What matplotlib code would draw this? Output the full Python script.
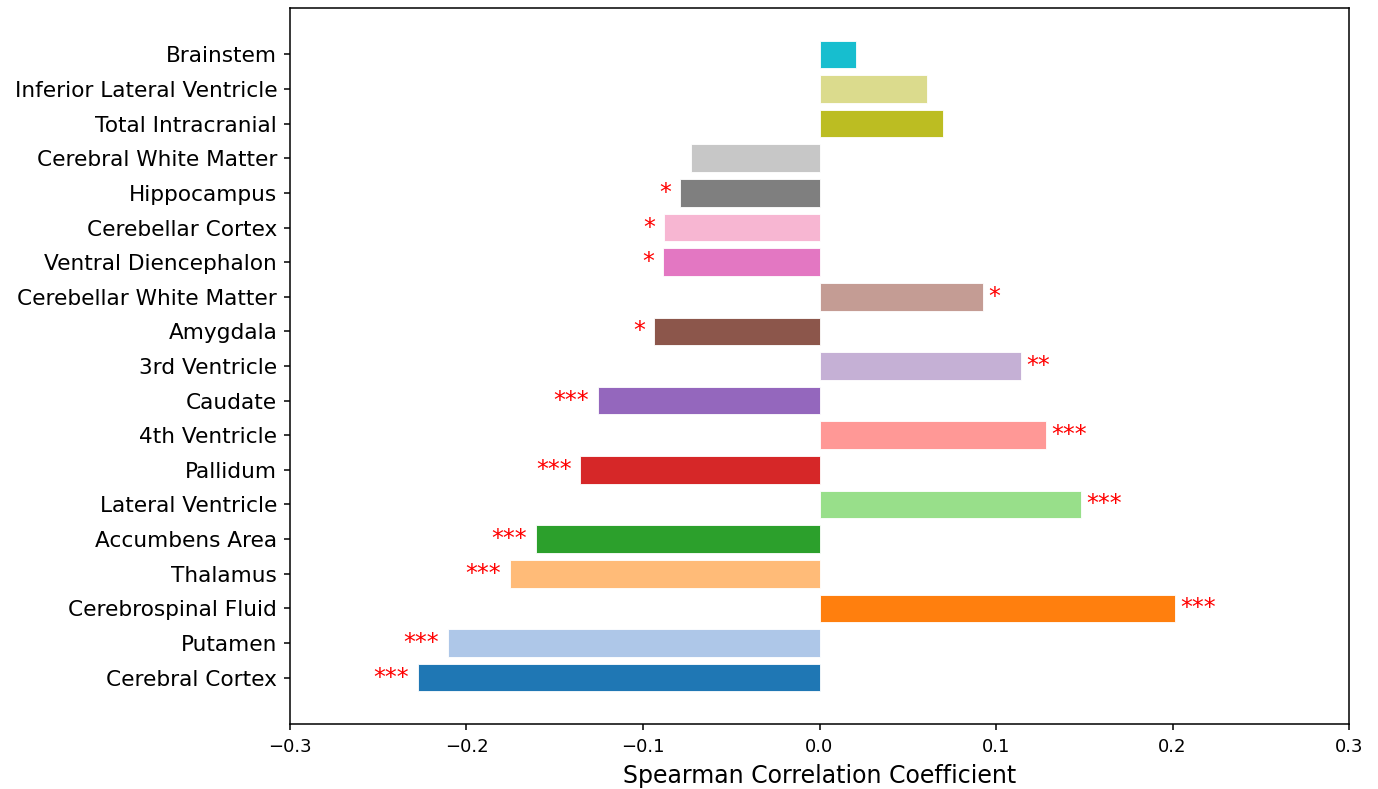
import matplotlib
matplotlib.use('Agg')
import matplotlib.pyplot as plt

regions = ['Cerebral Cortex', 'Putamen', 'Cerebrospinal Fluid', 'Thalamus',
           'Accumbens Area', 'Lateral Ventricle', 'Pallidum', '4th Ventricle',
           'Caudate', '3rd Ventricle', 'Amygdala', 'Cerebellar White Matter',
           'Ventral Diencephalon', 'Cerebellar Cortex', 'Hippocampus',
           'Cerebral White Matter', 'Total Intracranial',
           'Inferior Lateral Ventricle', 'Brainstem']
rho = [-0.2275, -0.2105, 0.2015, -0.1755, -0.1605, 0.1480, -0.1355, 0.1285,
       -0.1255, 0.1140, -0.0940, 0.0925, -0.0885, -0.0880, -0.0790,
       -0.0730, 0.0700, 0.0610, 0.0205]
stars = ['***', '***', '***', '***', '***', '***', '***', '***',
         '***', '**', '*', '*', '*', '*', '*', '', '', '', '']

colors = plt.cm.tab20.colors[:len(regions)]

fig = plt.figure(figsize=(13.78, 7.89), dpi=100)
ax = fig.add_axes([290 / 1378, 1 - 724 / 789, 1059 / 1378, 716 / 789])
bars = ax.barh(regions, rho, color=colors, edgecolor='white', linewidth=0.6)

for i, (v, s) in enumerate(zip(rho, stars)):
    if not s:
        continue
    if v > 0:
        ax.text(v + 0.003, i, s, color='red', fontsize=17, ha='left', va='center')
    else:
        ax.text(v - 0.005, i, s, color='red', fontsize=17, ha='right', va='center')

ax.set_xlim(-0.3, 0.3)
ax.set_xlabel('Spearman Correlation Coefficient', fontsize=17, labelpad=6)
ax.tick_params(axis='y', labelsize=15.6, length=4.6, width=1.1, pad=4.6)
ax.tick_params(axis='x', labelsize=13, length=4.6, width=1.1, pad=5.5)
for sp in ax.spines.values():
    sp.set_linewidth(1.1)

fig.savefig('out.png', dpi=100)
